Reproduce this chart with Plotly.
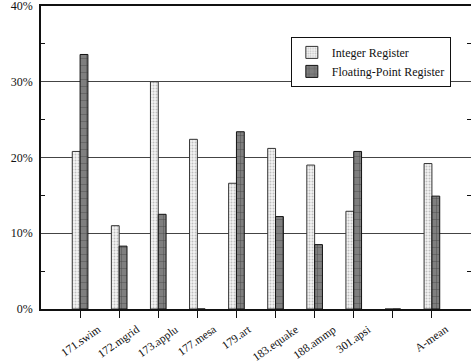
import plotly.graph_objects as go

categories = ["171.swim", "172.mgrid", "173.applu", "177.mesa", "179.art",
              "183.equake", "188.ammp", "301.apsi", "", "A-mean"]
integer_reg = [20.8, 11.0, 30.0, 22.4, 16.6, 21.2, 19.0, 12.9, 0, 19.2]
float_reg = [33.6, 8.3, 12.5, 0, 23.4, 12.2, 8.5, 20.8, 0, 14.9]
y_ticks = [0, 10, 20, 30, 40]
y_labels = ["0%", "10%", "20%", "30%", "40%"]
minor_ticks = [5, 15, 25, 35]

xpos = list(range(len(categories)))
FONT = "Liberation Serif"

fig = go.Figure()
fig.add_trace(go.Bar(
    x=xpos, y=integer_reg, name="Integer Register",
    marker=dict(color="#f4f4f4", line=dict(color="#333", width=1),
                pattern=dict(shape=".", fgcolor="#8a8a8a", bgcolor="#f4f4f4",
                             size=3, solidity=0.35)),
))
fig.add_trace(go.Bar(
    x=xpos, y=float_reg, name="Floating-Point Register",
    marker=dict(color="#7a7a7a", line=dict(color="#111", width=1),
                pattern=dict(shape="+", fgcolor="#111", bgcolor="#7f7f7f",
                             size=7, solidity=0.12)),
))
# empty helper trace so the right-hand tick axis is drawn
fig.add_trace(go.Scatter(x=[], y=[], yaxis="y2", showlegend=False,
                         hoverinfo="skip"))

# rotated category labels, centred under each tick
for xp, lab in zip(xpos, categories):
    if lab:
        fig.add_annotation(x=xp, xref="x", y=0, yref="paper",
                           text=lab, textangle=-35, showarrow=False,
                           xanchor="center", yanchor="top", yshift=-11,
                           font=dict(family=FONT, size=11.5, color="#111"))

fig.update_layout(
    width=471, height=362,
    margin=dict(l=41, r=0, t=6, b=53, autoexpand=False),
    paper_bgcolor="white", plot_bgcolor="white",
    barmode="group", bargap=0.6, bargroupgap=0,
    font=dict(family=FONT, size=12, color="#111"),
    showlegend=True,
    legend=dict(x=0.581, y=0.898, xanchor="left", yanchor="top",
                bgcolor="white", bordercolor="#111", borderwidth=1,
                font=dict(family=FONT, size=12, color="#111"),
                tracegroupgap=0, itemwidth=30),
    xaxis=dict(range=[-1, 10], tickmode="array", tickvals=xpos,
               showticklabels=False, automargin=False,
               ticks="outside", ticklen=7, tickcolor="#111", tickwidth=1,
               showline=True, linecolor="#111", linewidth=2, mirror=True,
               showgrid=False, zeroline=False),
    yaxis=dict(range=[0, 40], tickmode="array", tickvals=y_ticks,
               ticktext=y_labels, ticks="", ticklabelstandoff=4,
               automargin=False, ticklabeloverflow="allow",
               showline=True, linecolor="#111", linewidth=1.5, mirror=False,
               showgrid=True, gridcolor="#444", gridwidth=1,
               zeroline=False,
               minor=dict(tickvals=minor_ticks, ticks="inside",
                          ticklen=4, tickcolor="#111", showgrid=False),
               tickfont=dict(family=FONT, size=12, color="#111")),
    yaxis2=dict(range=[0, 40], overlaying="y", side="right",
                tickmode="array", tickvals=[], showticklabels=False,
                showline=False, showgrid=False, zeroline=False,
                automargin=False,
                minor=dict(tickvals=minor_ticks, ticks="inside",
                           ticklen=4, tickcolor="#111", showgrid=False)),
)

fig.write_html("out.html", config={"displayModeBar": False},
               post_script="document.body.style.margin='0';")
